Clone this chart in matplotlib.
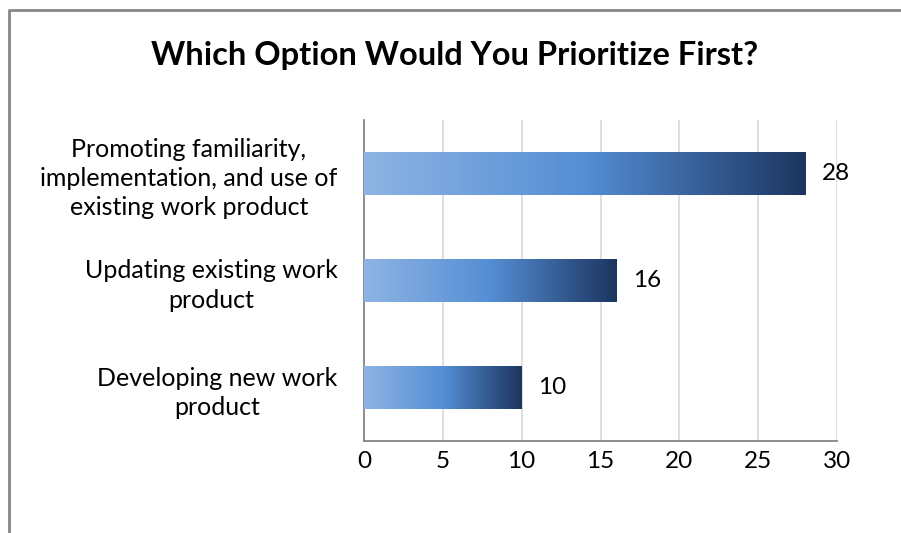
import numpy as np
import matplotlib
matplotlib.use("Agg")
import matplotlib.pyplot as plt
from matplotlib.colors import LinearSegmentedColormap
from matplotlib.lines import Line2D

plt.rcParams['font.family'] = ['Lato', 'DejaVu Sans']

title = "Which Option Would You Prioritize First?"
categories = [
    "Promoting familiarity,\nimplementation, and use of\nexisting work product",
    "Updating existing work\nproduct",
    "Developing new work\nproduct",
]
values = [28, 16, 10]
xticks = [0, 5, 10, 15, 20, 25, 30]

grad = LinearSegmentedColormap.from_list(
    "bar_grad", [(0.0, "#8EB4E3"), (0.5, "#558ED5"), (1.0, "#1C3560")])

W, H = 901, 533
fig = plt.figure(figsize=(W / 100, H / 100), dpi=100)
fig.patch.set_facecolor("white")

# outer chart frame: left and top edges only
fx, fy = 9 / W, 1 - 10 / H
fig.add_artist(Line2D([fx, fx, 1.0], [0.0, fy, fy], transform=fig.transFigure,
                      color="#868686", linewidth=2))

ax = fig.add_axes([364 / W, 92 / H, 473 / W, 321 / H])
ax.set_xlim(0, 30)
ax.set_ylim(-0.5, 2.5)
ax.invert_yaxis()
ax.set_autoscale_on(False)

ypos = np.arange(len(categories))
bar_h = 0.4
bars = ax.barh(ypos, values, height=bar_h, color="none", zorder=3)
gradient = np.linspace(0, 1, 256).reshape(1, -1)
for bar, v in zip(bars, values):
    x0, y0 = bar.get_x(), bar.get_y()
    w, h = bar.get_width(), bar.get_height()
    im = ax.imshow(gradient, cmap=grad, aspect="auto",
                   extent=(x0, x0 + w, y0 + h, y0), zorder=3,
                   interpolation="bilinear")
    im.set_clip_path(bar)
    ax.annotate(str(v), (v, bar.get_y() + h / 2), xytext=(12, 0),
                textcoords="offset points", va="center", ha="left",
                fontsize=17.5, color="black")

ax.set_xticks(xticks)
ax.set_xticklabels([str(t) for t in xticks], fontsize=17.5)
ax.set_yticks(ypos)
ax.set_yticklabels(categories, fontsize=18, ha="right",
                   multialignment="center", linespacing=1.32)
ax.tick_params(axis="y", length=0, pad=19)
ax.tick_params(axis="x", length=0, pad=7)
ax.xaxis.grid(True, color="#D9D9D9", linewidth=1.2, zorder=0)
ax.set_axisbelow(True)
for s in ["top", "right"]:
    ax.spines[s].set_visible(False)
for s in ["left", "bottom"]:
    ax.spines[s].set_color("#868686")
    ax.spines[s].set_linewidth(1.3)

fig.text(455 / W, 1 - 56 / H, title, ha="center", va="center",
         fontsize=23.5, fontweight="bold")

fig.savefig("out.png", dpi=100, facecolor="white")
